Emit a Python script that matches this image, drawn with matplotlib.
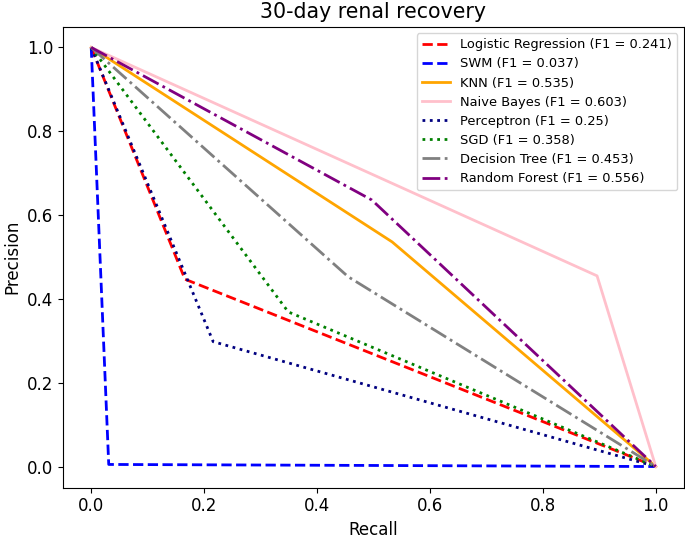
import matplotlib
matplotlib.use("Agg")
import matplotlib.pyplot as plt

models = ["Logistic Regression", "SWM", "KNN", "Naive Bayes", "Perceptron", "SGD", "Decision Tree", "Random Forest"]
f1_scores = ["0.241", "0.037", "0.535", "0.603", "0.25", "0.358", "0.453", "0.556"]
recall_mid = [0.166, 0.031, 0.533, 0.896, 0.216, 0.349, 0.455, 0.497]
precision_mid = [0.447, 0.005, 0.536, 0.455, 0.298, 0.369, 0.453, 0.636]
colors = ["red", "blue", "orange", "pink", "navy", "green", "gray", "purple"]
styles = ["--", "--", "-", "-", ":", ":", "-.", "-."]

fig = plt.figure(figsize=(6.85, 5.39), dpi=100)
ax = fig.add_axes([63/685, (539-487.5)/539, 621/685, 461/539])
for m, f, r, p, c, s in zip(models, f1_scores, recall_mid, precision_mid, colors, styles):
    ax.plot([0, r, 1], [1, p, 0], color=c, linestyle=s, linewidth=2, label=f"{m} (F1 = {f})")
ax.set_xlabel("Recall", fontsize=12)
ax.set_ylabel("Precision", fontsize=12)
ax.set_title("30-day renal recovery", fontsize=14.8)
ax.tick_params(labelsize=12)
ax.legend(loc="upper right", fontsize=9.4, labelspacing=0.47, handlelength=2.15)
fig.savefig("out.png", dpi=100)
